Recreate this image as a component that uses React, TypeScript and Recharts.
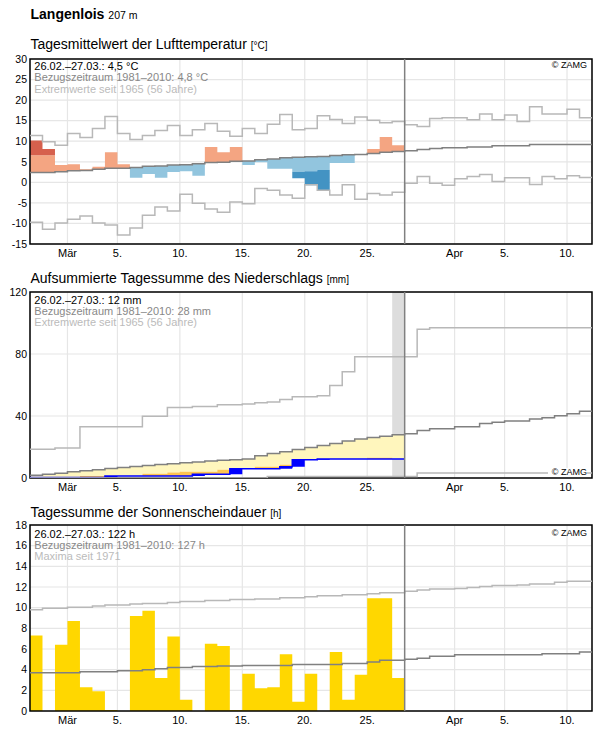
import React from "react";
import {
  ComposedChart,
  Area,
  Line,
  XAxis,
  YAxis,
  CartesianGrid,
  ReferenceLine,
  ReferenceArea,
} from "recharts";

const FONT = "'Liberation Sans', Arial, Helvetica, sans-serif";

// one entry per day, 26.02.2021 – 11.04.2021
const dates = Array.from({ length: 45 }, (_, i) => new Date(2021, 1, 26 + i));
const monthNames = ["Jän", "Feb", "Mär", "Apr", "Mai", "Jun", "Jul", "Aug", "Sep", "Okt", "Nov", "Dez"];
const labelledDays = [1, 5, 10, 15, 20, 25];
const OBS = 30; // 26.02.–27.03. observed

const tempTicks = [-15, -10, -5, 0, 5, 10, 15, 20, 25, 30];
const precipTicks = [0, 40, 80, 120];
const sunTicks = [0, 2, 4, 6, 8, 10, 12, 14, 16, 18];

// Lufttemperatur [°C]
const tempMean = [
  10.2, 8.1, 4.2, 4.4, 3.2, 3.8, 7.3, 4.4, 1.1, 2.0,
  1.1, 2.5, 2.7, 1.6, 8.6, 7.3, 8.6, 4.2, 4.9, 3.3,
  3.3, 1.0, -0.7, -1.9, 4.7, 4.7, 6.8, 8.1, 11.0, 9.0,
];
const tempNormal = [
  2.4, 2.4, 2.6, 2.8, 2.9, 3.2, 3.4, 3.4, 3.6, 3.9,
  4.0, 4.2, 4.3, 4.5, 4.8, 4.9, 5.1, 5.2, 5.5, 5.7,
  6.0, 6.1, 6.2, 6.3, 6.5, 6.7, 6.8, 7.0, 7.3, 7.5,
  7.7, 8.0, 8.2, 8.4, 8.4, 8.6, 8.6, 8.9, 8.9, 8.9,
  9.2, 9.2, 9.2, 9.2, 9.2,
];
// where the stronger colour starts
const tempStrongFrom = [
  6.6, 6.6, null, null, null, null, null, null, null, null,
  null, null, null, null, null, null, null, null, null, null,
  null, 2.6, 2.7, 3.0, null, null, null, null, null, null,
];
const tempMax = [
  11.4, 9.9, 9.0, 11.9, 10.9, 13.1, 16.0, 11.9, 10.4, 11.4,
  12.6, 13.8, 11.4, 12.8, 14.3, 12.4, 11.2, 13.1, 11.9, 14.1,
  16.5, 12.8, 13.1, 16.2, 15.3, 14.3, 15.9, 15.1, 14.5, 14.8,
  14.0, 13.6, 15.5, 15.7, 15.7, 15.2, 16.6, 15.2, 16.4, 14.8,
  18.4, 16.6, 16.6, 17.8, 15.7,
];
const tempMin = [
  -9.7, -11.4, -9.9, -9.0, -8.2, -9.9, -10.4, -12.8, -11.1, -8.0,
  -6.0, -7.0, -2.9, -5.1, -6.5, -7.3, -4.8, -5.2, -1.5, -1.9,
  -3.1, -3.9, -0.6, -1.9, -3.1, -0.6, -4.1, -2.7, -3.1, -2.4,
  -0.2, 1.4, -0.2, -0.7, 0.9, 1.4, 1.9, 0.2, 1.1, 1.1,
  -0.5, 1.4, 0.9, 1.6, 1.2,
];

// Niederschlag, aufsummiert [mm]
const precipSum = [
  0.4, 0.4, 0.4, 0.4, 0.4, 0.4, 1.3, 1.3, 1.3, 1.3,
  1.3, 1.3, 1.3, 2.5, 2.5, 2.5, 6.0, 6.0, 6.0, 6.0,
  7.2, 11.7, 11.7, 12.3, 12.3, 12.3, 12.3, 12.3, 12.3, 12.3,
];
const precipDryEdge = [
  null, null, null, null, 1.3, 1.3, null, null, null, 2.8,
  2.8, 3.6, 4.0, 4.0, 4.0, 5.3, null, null, 7.2, 7.2,
  8.5, null, null, null, null, null, null, 13.0, 13.0, null,
];
const precipNormal = [
  1.7, 2.5, 3.0, 4.0, 4.6, 5.3, 6.2, 6.8, 7.4, 8.0,
  8.7, 9.2, 9.9, 10.4, 11.0, 11.4, 11.8, 12.3, 14.3, 15.8,
  17.0, 18.4, 19.7, 20.9, 22.3, 23.8, 25.2, 26.2, 27.0, 27.9,
  28.5, 30.6, 31.7, 31.7, 33.0, 33.0, 35.1, 36.0, 36.8, 36.8,
  38.1, 38.8, 40.1, 41.4, 43.1,
];
const precipMax = [
  18.5, 18.5, 19.4, 19.4, 33.0, 33.0, 33.0, 33.0, 33.0, 39.9,
  39.9, 45.5, 45.5, 46.1, 46.1, 47.2, 47.2, 47.8, 48.5, 49.1,
  50.6, 52.4, 52.4, 53.0, 59.7, 68.5, 78.2, 78.2, 78.2, 78.2,
  78.2, 95.9, 97.0, 97.0, 97.0, 97.0, 97.0, 97.0, 97.0, 97.0,
  97.0, 97.0, 97.0, 97.0, 97.0,
];
const precipMin = [
  0, 0, 0, 0, 0, 0, 0, 0, 0, 0,
  0, 0, 0, 0, 0, 0, 0, 0, 0, 0.9,
  0.9, 0.9, 0.9, 0.9, 0.9, 0.9, 0.9, 0.9, 0.9, 0.9,
  0.9, 3.2, 3.2, 3.2, 3.2, 3.2, 3.2, 3.2, 3.2, 3.2,
  3.2, 3.2, 3.2, 3.2, 3.2,
];

// Sonnenscheindauer [h]
const sun = [
  7.3, 0, 6.4, 8.7, 2.3, 1.9, 0.1, 0, 9.2, 9.7,
  3.2, 7.2, 1.1, 0, 6.5, 6.3, 0.1, 3.6, 2.2, 2.3,
  5.5, 0.9, 3.6, 0, 5.7, 1.1, 3.5, 10.9, 10.9, 3.2,
];
const sunNormal = [
  3.7, 3.7, 3.7, 3.7, 3.8, 3.8, 3.8, 3.9, 3.9, 4.0,
  4.1, 4.2, 4.2, 4.3, 4.3, 4.35, 4.35, 4.4, 4.4, 4.4,
  4.4, 4.5, 4.5, 4.5, 4.5, 4.6, 4.6, 4.75, 4.9, 4.9,
  5.0, 5.1, 5.3, 5.3, 5.45, 5.45, 5.45, 5.45, 5.45, 5.45,
  5.45, 5.55, 5.55, 5.55, 5.7,
];
const sunMax = [
  9.8, 9.95, 9.95, 10.05, 10.05, 10.15, 10.25, 10.25, 10.35, 10.4,
  10.4, 10.5, 10.6, 10.6, 10.7, 10.7, 10.8, 10.8, 10.85, 10.85,
  10.95, 10.95, 11.05, 11.15, 11.15, 11.25, 11.25, 11.35, 11.45, 11.45,
  11.6, 11.7, 11.8, 11.8, 11.85, 11.95, 12.05, 12.15, 12.15, 12.2,
  12.3, 12.3, 12.45, 12.55, 12.55,
];

const GRID = "#e6e6e6";
const NORMAL = "#808080";
const EXTREME = "#b8b8b8";

const dayTicks = dates
  .map((d, i) => (labelledDays.includes(d.getDate()) ? i : -1))
  .filter((i) => i >= 0);
const dayLabel = (i: number) => {
  const d = dates[i];
  if (!d) return "";
  return d.getDate() === 1 ? monthNames[d.getMonth()] : `${d.getDate()}.`;
};

// rows 0..45: stepAfter needs a closing row at the end of the last day
const last = (arr: number[], i: number) => arr[Math.min(i, arr.length - 1)];

const tempData = Array.from({ length: 46 }, (_, i) => {
  const n = last(tempNormal, i);
  const row: any = { x: i, normal: n, max: last(tempMax, i), min: last(tempMin, i) };
  if (i < OBS) {
    const v = tempMean[i];
    const e = tempStrongFrom[i];
    const flat = [n, n];
    row.warm = v > n ? [n, e != null ? Math.min(v, e) : v] : flat;
    row.warmStrong = v > n && e != null ? [e, v] : flat;
    row.cold = v < n ? [e != null ? Math.max(v, e) : v, n] : flat;
    row.coldStrong = v < n && e != null ? [v, e] : flat;
  } else if (i === OBS) {
    row.warm = row.warmStrong = row.cold = row.coldStrong = [n, n];
  }
  return row;
});

const precipData = Array.from({ length: 46 }, (_, i) => {
  const n = last(precipNormal, i);
  const row: any = { x: i, normal: n, max: last(precipMax, i), min: last(precipMin, i) };
  if (i < OBS) {
    const s = precipSum[i];
    const prev = i > 0 ? precipSum[i - 1] : 0;
    const dry = precipDryEdge[i];
    const top = dry != null ? Math.max(dry, s) : s;
    row.sum = s;
    row.inc = [prev, s];
    row.orange = dry != null ? [s, dry] : [s, s];
    row.yellow = n > top ? [top, n] : [top, top];
  } else if (i === OBS) {
    const s = precipSum[OBS - 1];
    row.sum = s;
    row.inc = row.orange = row.yellow = [s, s];
  }
  return row;
});

const sunData = Array.from({ length: 46 }, (_, i) => {
  const row: any = { x: i, normal: last(sunNormal, i), max: last(sunMax, i) };
  if (i < OBS) row.sun = sun[i];
  else if (i === OBS) row.sun = 0;
  return row;
});

const tickStyle = { fontSize: 11, fill: "#000", fontFamily: FONT };

function frame(domain: [number, number], ticks: number[]) {
  return [
    <CartesianGrid key="grid" stroke={GRID} strokeWidth={1.2} />,
    <XAxis
      key="x"
      type="number"
      dataKey="x"
      domain={[0, 45]}
      ticks={dayTicks}
      interval={0}
      tickFormatter={dayLabel}
      height={18}
      tickLine={false}
      axisLine={false}
      tickSize={0}
      tickMargin={5}
      tick={tickStyle}
      allowDataOverflow
    />,
    <YAxis
      key="y"
      type="number"
      domain={domain}
      ticks={ticks}
      interval={0}
      width={30}
      tickLine={false}
      axisLine={false}
      tickSize={0}
      tickMargin={3}
      tick={{ ...tickStyle, fontSize: 10.5 }}
      allowDataOverflow
    />,
  ];
}

function border(domain: [number, number]) {
  return (
    <ReferenceArea
      x1={0}
      x2={45}
      y1={domain[0]}
      y2={domain[1]}
      fill="none"
      stroke="#000"
      strokeWidth={1.5}
      ifOverflow="visible"
    />
  );
}

function step(key: string, color: string) {
  return (
    <Line
      dataKey={key}
      type="stepAfter"
      stroke={color}
      strokeWidth={1.5}
      dot={false}
      activeDot={false}
      isAnimationActive={false}
    />
  );
}

function band(key: string, color: string) {
  return (
    <Area
      dataKey={key}
      type="stepAfter"
      fill={color}
      fillOpacity={1}
      stroke="none"
      isAnimationActive={false}
    />
  );
}

function Txt({ x, y, size, color = "#000", bold = false, right = false, bg, children }: any) {
  return (
    <div
      style={{
        position: "absolute",
        left: right ? undefined : x,
        right: right ? 596 - x : undefined,
        top: y - 0.8465 * size,
        fontSize: size,
        lineHeight: 1,
        color,
        fontWeight: bold ? "bold" : "normal",
        whiteSpace: "nowrap",
        background: bg,
        paddingLeft: bg ? 4 : 0,
      }}
    >
      {children}
    </div>
  );
}

const chartMargin = { top: 9, right: 4, bottom: 0, left: 0 };

export default function App() {
  return (
    <div
      style={{
        position: "absolute",
        left: 0,
        top: 0,
        width: 596,
        height: 729,
        background: "#fff",
        fontFamily: FONT,
      }}
    >
      <Txt x={30.5} y={18.5} size={14}>
        <b>Langenlois</b> <span style={{ fontSize: 10.5 }}>207 m</span>
      </Txt>

      <Txt x={30.5} y={48.5} size={14}>
        Tagesmittelwert der Lufttemperatur <span style={{ fontSize: 10 }}>[°C]</span>
      </Txt>
      <div style={{ position: "absolute", left: 0, top: 50 }}>
        <ComposedChart width={596} height={212} data={tempData} margin={chartMargin}>
          {frame([-15, 30], tempTicks)}
          {band("warm", "#f4a582")}
          {band("warmStrong", "#d6604d")}
          {band("cold", "#92c5de")}
          {band("coldStrong", "#4393c3")}
          {step("max", EXTREME)}
          {step("min", EXTREME)}
          {step("normal", NORMAL)}
          <ReferenceLine x={OBS} stroke={NORMAL} strokeWidth={1.5} />
          {border([-15, 30])}
        </ComposedChart>
      </div>
      <Txt x={34.3} y={70} size={11}>26.02.–27.03.: 4,5 °C</Txt>
      <Txt x={34.3} y={81.5} size={11} color="#888">Bezugszeitraum 1981–2010: 4,8 °C</Txt>
      <Txt x={34.3} y={93} size={11} color="#bbb">Extremwerte seit 1965 (56 Jahre)</Txt>
      <Txt x={587} y={68.5} size={9} right>© ZAMG</Txt>

      <Txt x={30.5} y={282.7} size={14}>
        Aufsummierte Tagessumme des Niederschlags <span style={{ fontSize: 10 }}>[mm]</span>
      </Txt>
      <div style={{ position: "absolute", left: 0, top: 283 }}>
        <ComposedChart width={596} height={213} data={precipData} margin={chartMargin}>
          {frame([0, 120], precipTicks)}
          <ReferenceArea x1={OBS - 1} x2={OBS} fill="#dddddd" fillOpacity={1} stroke="none" />
          {band("yellow", "#fff6bd")}
          {band("orange", "#fec44f")}
          {band("inc", "#0000ff")}
          {step("sum", "#0000ff")}
          {step("max", EXTREME)}
          {step("min", EXTREME)}
          {step("normal", NORMAL)}
          <ReferenceLine x={OBS} stroke={NORMAL} strokeWidth={1.5} />
          {border([0, 120])}
        </ComposedChart>
      </div>
      <Txt x={34.3} y={304.3} size={11}>26.02.–27.03.: 12 mm</Txt>
      <Txt x={34.3} y={315.3} size={11} color="#888">Bezugszeitraum 1981–2010: 28 mm</Txt>
      <Txt x={34.3} y={326} size={11} color="#bbb">Extremwerte seit 1965 (56 Jahre)</Txt>
      <Txt x={587} y={475.3} size={9} right bg="#fff">© ZAMG</Txt>

      <Txt x={30.5} y={516.7} size={14}>
        Tagessumme der Sonnenscheindauer <span style={{ fontSize: 10 }}>[h]</span>
      </Txt>
      <div style={{ position: "absolute", left: 0, top: 516 }}>
        <ComposedChart width={596} height={213} data={sunData} margin={chartMargin}>
          {frame([0, 18], sunTicks)}
          {band("sun", "#ffd700")}
          {step("max", EXTREME)}
          {step("normal", NORMAL)}
          <ReferenceLine x={OBS} stroke={NORMAL} strokeWidth={1.5} />
          {border([0, 18])}
        </ComposedChart>
      </div>
      <Txt x={34.3} y={538.3} size={11}>26.02.–27.03.: 122 h</Txt>
      <Txt x={34.3} y={549} size={11} color="#888">Bezugszeitraum 1981–2010: 127 h</Txt>
      <Txt x={34.3} y={560} size={11} color="#bbb">Maxima seit 1971</Txt>
      <Txt x={587} y={536.7} size={9} right>© ZAMG</Txt>
    </div>
  );
}
